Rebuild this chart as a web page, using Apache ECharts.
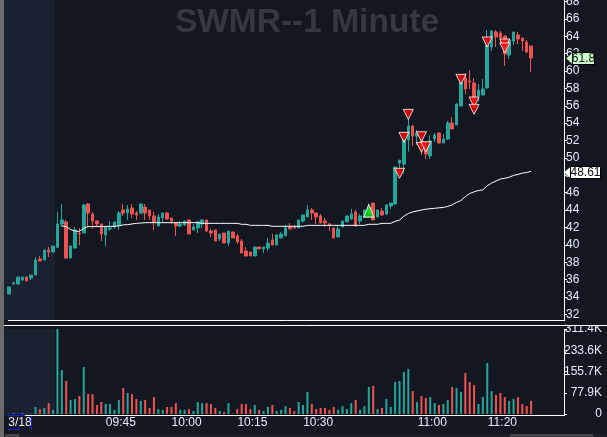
<!DOCTYPE html>
<html>
<head>
<meta charset="utf-8">
<style>html,body{margin:0;padding:0;background:#131722;overflow:hidden}#main{width:607px;height:437px}</style>
<script src="https://cdn.jsdelivr.net/npm/echarts@6/dist/echarts.min.js"></script>
</head>
<body>
<div id="main"></div>
<script>
// open, close, low, high
var candles = [
[34.34,35.15,34.34,35.15],[35.49,35.6,35.38,35.76],[35.49,36.3,35.49,36.3],[35.95,36.3,35.84,36.3],[36.3,35.84,35.84,36.3],
[36.18,36.53,35.95,36.53],[36.53,38.25,36.53,38.6],[38.37,38.14,38.14,38.71],[38.25,39.4,38.25,39.4],[39.4,39.17,38.6,39.75],
[39.17,39.86,39.17,39.86],[39.71,42.4,39.63,43.78],[42.4,42.86,42.05,44.7],[42.63,38.48,38.37,42.86],[38.48,39.86,38.48,39.86],
[39.63,41.71,39.63,42.05],[41.36,41.25,39.98,41.94],[41.36,44.58,41.36,44.7],[44.7,43.66,42.05,44.81],[43.55,42.74,41.82,43.78],
[42.74,42.4,42.05,42.74],[42.4,41.25,40.44,42.4],[41.13,42.05,39.86,42.05],[41.82,41.94,41.59,42.74],[42.05,42.63,41.82,42.63],
[42.28,43.66,41.71,43.89],[44.0,43.66,43.32,44.7],[43.66,44.12,42.86,44.58],[44.24,43.55,43.09,44.7],[43.66,43.43,42.86,43.89],
[43.66,44.7,43.55,44.7],[44.35,43.66,42.86,44.7],[44.0,43.32,42.86,44.0],[43.32,42.63,41.71,43.78],[42.17,43.2,42.17,43.55],
[43.09,43.66,42.63,43.66],[43.66,42.97,42.86,43.78],[43.09,42.74,42.4,43.09],[42.51,42.17,41.01,42.51],[42.17,42.4,42.05,42.74],
[42.28,42.74,42.17,42.74],[42.86,41.25,41.25,42.86],[41.71,42.05,41.71,42.4],[41.94,42.63,41.36,42.74],[42.4,42.86,41.94,42.97],
[42.86,41.59,41.48,42.86],[41.59,41.36,40.9,41.82],[41.71,40.44,40.44,41.71],[40.67,41.25,40.44,41.25],[41.36,40.21,40.21,41.36],
[40.21,41.59,39.87,41.59],[41.48,40.79,40.79,41.48],[41.02,40.33,40.1,41.25],[40.44,39.06,39.06,40.67],[39.29,38.71,38.71,39.75],
[39.17,38.71,38.71,39.17],[38.71,39.75,38.71,39.75],[39.75,39.52,39.52,39.75],[39.52,39.75,39.06,39.75],[39.63,40.21,39.29,40.79],
[40.56,39.98,39.98,41.25],[39.98,41.13,39.98,41.25],[40.79,41.25,40.79,41.48],[41.02,41.94,41.02,42.28],[42.05,41.82,41.82,42.51],
[42.05,41.94,41.82,42.28],[41.94,42.86,41.94,42.86],[42.74,43.43,42.51,43.43],[43.2,44.01,43.2,44.58],[44.01,43.66,42.86,44.24],
[43.66,43.2,42.4,43.66],[43.32,42.51,42.51,43.55],[42.74,42.51,42.05,43.09],[42.4,42.28,41.59,42.51],[41.94,40.79,40.79,41.94],
[40.9,41.82,40.9,42.17],[42.05,42.74,42.05,42.74],[42.63,43.32,42.63,43.32],[42.97,43.55,42.86,44.12],[43.78,42.17,42.05,44.01],
[42.74,43.32,42.4,43.55],[43.2,44.01,43.2,44.01],[43.55,44.35,43.4,44.6],[44.81,42.86,42.86,44.81],[43.2,44.01,43.2,44.01],
[43.89,43.43,43.32,44.24],[43.55,44.58,43.43,44.7],[44.47,44.81,44.12,44.81],[44.7,48.95,44.58,48.95],[49.41,49.76,48.2,49.76],
[49.3,52.06,48.2,52.5],[52.06,53.67,50.72,54.55],[53.67,52.52,51.37,53.79],[52.52,52.87,51.5,53.2],[52.06,51.37,50.33,52.5],
[51.37,50.45,49.87,51.6],[50.22,51.95,49.87,52.6],[52.17,52.64,51.83,52.87],[52.87,51.72,51.72,52.87],[51.72,52.17,51.72,52.75],
[52.17,54.02,52.06,54.25],[54.02,53.33,53.33,54.71],[53.79,56.2,53.79,56.3],[55.97,58.85,55.97,59.5],[59.2,57.93,57.35,59.77],
[58.85,58.74,57.93,60.1],[58.62,56.66,55.9,59.2],[57.12,57.81,56.5,58.5],[57.24,57.93,57.24,59.08],[58.05,63.34,57.93,64.72],
[62.76,64.6,62.3,64.72],[64.49,63.91,62.76,64.72],[64.37,63.8,63.1,64.6],[64.03,61.96,60.58,64.1],[61.84,63.57,61.38,63.57],
[63.45,64.49,63,64.49],[64.14,63.68,63.1,64.49],[63.8,63.45,62.3,63.8],[63.34,62.19,62.07,63.57],[62.88,61.5,59.89,62.88]
];

// volume in thousands
var volumes = [
1,3,1,3,1,1,26,18,22,40,15,311,161,121,51,55,66,172,73,73,
33,44,37,37,15,51,95,77,73,55,48,51,22,62,18,15,26,26,40,15,
15,18,11,44,40,40,37,22,11,7,40,1,18,37,37,18,33,15,11,26,
33,11,15,29,22,11,44,33,81,37,18,22,22,15,26,15,29,18,40,51,
15,29,99,103,18,22,55,26,117,121,154,165,84,44,66,59,62,40,33,37,
51,99,95,81,150,117,106,37,62,187,84,70,77,62,48,55,62,37,29,48
];

var maLine = [
null,null,null,null,null,null,null,null,null,null,null,null,
42.17,42.1,41.75,41.6,41.55,41.9,42.1,42.1,42.1,42.1,42.12,42.12,42.15,42.17,42.3,42.32,42.4,42.47,
42.5,42.55,42.55,42.55,42.55,42.55,42.55,42.55,42.55,42.55,42.55,42.55,42.55,42.55,
42.47,42.47,42.47,42.47,42.47,42.47,42.47,42.47,42.47,42.36,42.36,42.24,42.24,42.24,42.24,42.24,
42.13,42.13,42.13,42.13,42.13,42.13,42.13,42.13,42.24,42.24,42.24,42.24,42.24,42.24,42.24,42.24,
42.24,42.24,42.24,42.24,42.24,42.24,42.36,42.36,42.36,42.47,42.47,42.47,42.7,42.85,
43.3,43.6,43.78,43.9,44.0,44.1,44.16,44.2,44.26,44.3,44.42,44.6,44.88,45.1,45.55,45.9,46.1,46.25,46.32,46.8,
47.1,47.35,47.57,47.65,47.78,47.99,48.1,48.25,48.32,48.45
];

// trade markers: [bar index, price]
var sellMarks = [[91,55.01],[90,52.37],[89,48.23],[94,52.44],[94,51.22],[95,51.29],[103,59.04],[106,56.43],[106,55.59],[109,63.34],[113,63.11],[113,62.65]];
var buyMarks = [[82,43.93]];

var tickBars = [2,25,40,55,70,96,112];
var tickLabels = ['3/18','09:45','10:00','10:15','10:30','11:00','11:20'];
var volTicks = ['0','77.9K','155.7K','233.6K','311.4K'];

var flagLevels = [61.55,48.4];
var flagTexts = ['61.8','48.61'];
var flagColors = ['#ccffcc','#ffffff'];

var barCount = 127;
var categories = [];
for (var i = 0; i < barCount; i++) {
    var p = tickBars.indexOf(i);
    categories.push(p >= 0 ? tickLabels[p] : ' ' + i);
}

var UP = '#26a69a', DOWN = '#ef5350', BG = '#131722', TXT = '#e6eefc';

function hline(x1, x2, y, color) {
    return {type: 'line', z: 100, shape: {x1: x1, y1: y, x2: x2, y2: y}, style: {stroke: color || '#fff', lineWidth: 1}};
}
function vline(x, y1, y2, color) {
    return {type: 'line', z: 100, shape: {x1: x, y1: y1, x2: x, y2: y2}, style: {stroke: color || '#fff', lineWidth: 1}};
}
function box(x, y, w, h, color, z) {
    return {type: 'rect', z: z, shape: {x: x, y: y, width: w, height: h}, style: {fill: color}};
}

var myChart = echarts.init(document.getElementById('main'));

var option = {
    backgroundColor: BG,
    animation: false,
    title: {
        text: 'SWMR--1 Minute',
        left: 302,
        top: 1,
        textAlign: 'center',
        textStyle: {color: '#353841', fontSize: 33.5, fontWeight: 'bold', fontFamily: 'Liberation Sans'}
    },
    grid: [
        {left: 7, right: 43, top: 1.5, height: 312.84, outerBoundsMode: 'none'},
        {left: 7, right: 43, top: 329, height: 85, outerBoundsMode: 'none'}
    ],
    xAxis: [
        {type: 'category', gridIndex: 0, data: categories, axisLine: {show: false}, axisTick: {show: false}, axisLabel: {show: false}, splitLine: {show: false}},
        {
            type: 'category', gridIndex: 1, data: categories,
            axisLine: {show: false}, axisTick: {show: false}, splitLine: {show: false},
            axisLabel: {
                interval: 0, margin: 3, color: TXT, fontSize: 12, fontFamily: 'Liberation Sans', padding: [0, 0, 0, 4], hideOverlap: false,
                formatter: function (v) { return v.charAt(0) === ' ' ? '' : v; }
            }
        }
    ],
    yAxis: [
        {
            type: 'value', gridIndex: 0, position: 'right', min: 32, max: 68, interval: 2,
            axisLine: {show: false}, axisTick: {show: true, length: 3, lineStyle: {color: '#fff'}}, splitLine: {show: false},
            axisLabel: {margin: 2, color: TXT, fontSize: 12, fontFamily: 'Liberation Sans'}
        },
        {
            type: 'value', gridIndex: 1, position: 'right', min: 0, max: 311.4, interval: 77.85,
            axisLine: {show: false}, axisTick: {show: true, length: 3, lineStyle: {color: '#fff'}}, splitLine: {show: false},
            axisLabel: {
                margin: 38, align: 'right', color: TXT, fontSize: 12, fontFamily: 'Liberation Sans', showMinLabel: true, showMaxLabel: true,
                formatter: function (v) { return volTicks[Math.round(v / 77.85)]; }
            }
        }
    ],
    series: [
        {
            type: 'candlestick', name: 'price', xAxisIndex: 0, yAxisIndex: 0, data: candles, barWidth: 3,
            itemStyle: {color: UP, color0: DOWN, borderColor: UP, borderColor0: DOWN, borderWidth: 1}
        },
        {
            type: 'line', name: 'ma', xAxisIndex: 0, yAxisIndex: 0, data: maLine, showSymbol: false, connectNulls: false,
            lineStyle: {color: '#fff', width: 1}, z: 3
        },
        {
            type: 'scatter', name: 'sell', xAxisIndex: 0, yAxisIndex: 0, data: sellMarks, symbol: 'triangle', symbolRotate: 180, symbolSize: 10,
            itemStyle: {color: '#ff0000', borderColor: '#fff', borderWidth: 1}, z: 5
        },
        {
            type: 'scatter', name: 'buy', xAxisIndex: 0, yAxisIndex: 0, data: buyMarks, symbol: 'triangle', symbolSize: [10, 13],
            itemStyle: {color: '#00e000', borderColor: '#fff', borderWidth: 1}, z: 5
        },
        {
            type: 'bar', name: 'volume', xAxisIndex: 1, yAxisIndex: 1, barWidth: 2,
            data: volumes.map(function (v, i) {
                return {value: v, itemStyle: {color: candles[i][1] >= candles[i][0] ? UP : DOWN}};
            })
        },
        {
            // price flags sit on the axis, outside the plot
            type: 'custom', name: 'flags', xAxisIndex: 0, yAxisIndex: 0, z: 20,
            data: flagLevels.map(function (v) { return [barCount - 1, v]; }),
            encode: {x: 0, y: 1},
            renderItem: function (params, api) {
                var y = Math.round(api.coord([api.value(0), api.value(1)])[1]) + 0.5;
                var n = params.dataIndex;
                var w = n === 0 ? 22 : 30, x0 = n === 0 ? 572.5 : 570.5, tip = n === 0 ? 566 : 563.5;
                return {
                    type: 'group',
                    children: [
                        {type: 'polygon', shape: {points: [[tip, y], [x0, y - 6], [x0, y + 6]]}, style: {fill: flagColors[n], stroke: '#000', lineWidth: 0.5}},
                        {type: 'rect', shape: {x: x0, y: y - 6, width: w, height: 12}, style: {fill: flagColors[n], stroke: '#000', lineWidth: 1}},
                        {type: 'text', style: {x: x0 + w / 2, y: y, text: flagTexts[n], fill: '#111', align: 'center', verticalAlign: 'middle', font: '12px "Liberation Sans"'}}
                    ]
                };
            }
        }
    ],
    graphic: [
        // pre-market shading
        box(4, 0, 51, 320, '#1a2130', -1),
        box(4, 329, 51, 86, '#1a2130', -1),
        // panel frame
        box(566, 320, 41, 5, BG, 99),
        box(0, 0, 4, 437, '#6b6b6b', 101),
        box(0, 434, 607, 3, '#1c1f26', 100),
        box(5, 434, 14, 3, '#444', 101),
        box(510, 434, 83, 3, '#444', 101),
        hline(8, 565, 320.5),
        hline(4, 607, 325.5),
        hline(25, 565, 415.5),
        vline(564.5, 0, 320),
        vline(564.5, 330, 415),
        // box around the date label
        hline(8, 25, 415.5, '#1a1aff'),
        hline(8, 20, 429.5, '#1a1aff'),
        vline(31.5, 416, 429, '#1a1aff')
    ]
};

myChart.setOption(option);
</script>
</body>
</html>
